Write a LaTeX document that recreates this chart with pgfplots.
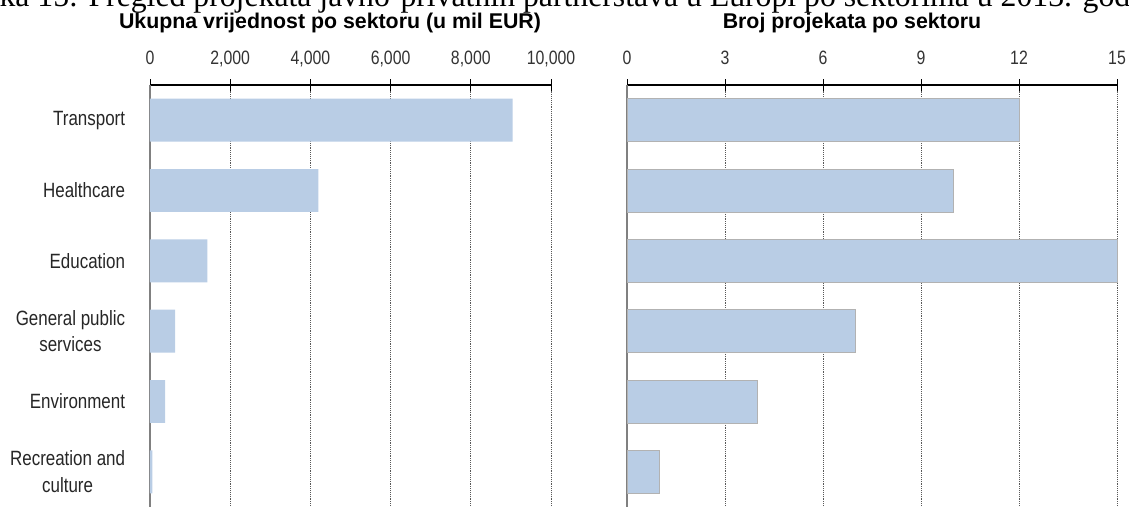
\documentclass[border=0pt]{standalone}
\usepackage{pgfplots}
\pgfplotsset{compat=1.18}
\usepackage{fontspec}
\setmainfont{Liberation Sans}
\newfontfamily\narrow[FakeStretch=0.82]{Liberation Sans}
\newfontfamily\capfont{Liberation Serif}
\definecolor{barblue}{HTML}{B9CDE5}
\begin{document}
\begin{tikzpicture}
\useasboundingbox (0pt,0pt) rectangle (846.75pt,380.25pt);
\node[anchor=base west, inner sep=0, font=\capfont\fontsize{23.8}{23.8}\selectfont] at (-27pt,375.5pt) {Slika 15: Pregled projekata javno-privatnih partnerstava u Europi po sektorima u 2013. godini};
\node[anchor=base, inner sep=0, font=\bfseries\fontsize{16}{16}\selectfont] at (247.5pt,359pt) {Ukupna vrijednost po sektoru (u mil EUR)};
\node[anchor=base, inner sep=0, font=\bfseries\fontsize{16}{16}\selectfont] at (639pt,359pt) {Broj projekata po sektoru};
\pgfplotsset{
 mystyle/.style={
  scale only axis, height=316.5pt, y dir=reverse, ymin=-0.5, ymax=5.5,
  axis x line*=top, axis y line*=left,
  x axis line style={black, line width=1.4pt, -},
  y axis line style={gray, line width=1pt, -},
  xtick align=center, major tick length=9pt,
  xtick style={black, line width=0.6pt},
  ytick={0,...,5}, ytick style={draw=none},
  xmajorgrids, major x grid style={gray!70!black, densely dotted, line width=0.7pt},
  xticklabel style={font=\narrow\fontsize{14.5}{14.5}\selectfont, text=black!80, anchor=base, yshift=11pt},
  /pgf/number format/assume math mode=true,
  xbar, bar width=0.61,
  scaled x ticks=false,
  clip=false,
 }
}
\begin{axis}[mystyle, at={(112.5pt,0pt)}, anchor=south west, width=300.75pt,
  xmin=0, xmax=10000, xtick={0,2000,4000,6000,8000,10000},
  xticklabel style={/pgf/number format/1000 sep={,}},
  yticklabels={Transport, Healthcare, Education, {General public\\services}, Environment, {Recreation and\\culture}},
  yticklabel style={anchor=east, inner sep=0pt, xshift=-9.5pt, align=center, font=\narrow\fontsize{15.5}{20}\selectfont, text=black!85},
]
\addplot[fill=barblue, draw=none] coordinates {(9040,0) (4200,1) (1430,2) (625,3) (375,4) (60,5)};
\end{axis}
\begin{axis}[mystyle, at={(470.25pt,0pt)}, anchor=south west, width=367.5pt,
  xmin=0, xmax=15, xtick={0,3,6,9,12,15},
  yticklabels={},
]
\addplot[fill=barblue, draw=gray!60, line width=0.5pt] coordinates {(12,0) (10,1) (15,2) (7,3) (4,4) (1,5)};
\end{axis}
\end{tikzpicture}
\end{document}
